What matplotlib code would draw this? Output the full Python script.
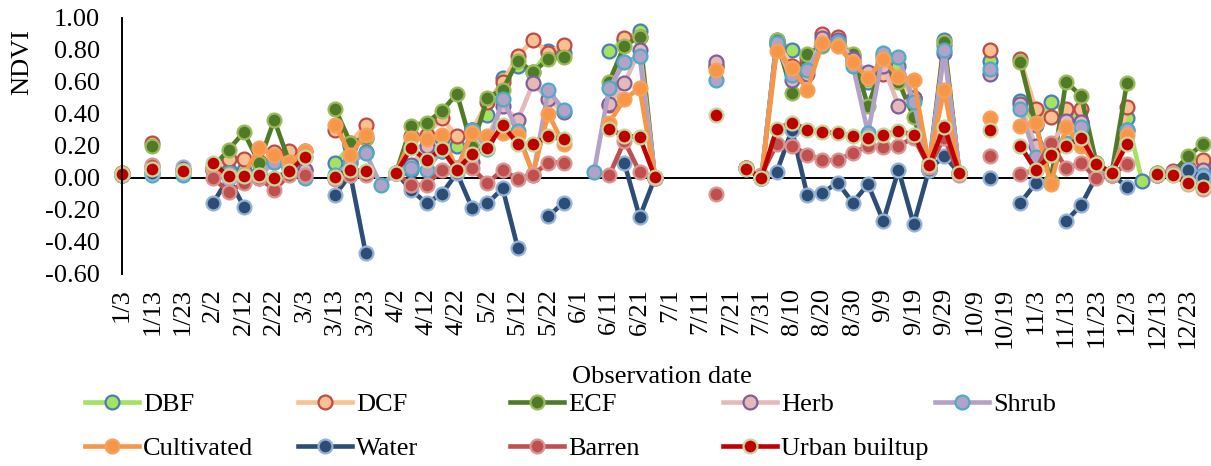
import numpy as np
import pandas as pd
import matplotlib
matplotlib.use("Agg")
import matplotlib.pyplot as plt

plt.rcParams['font.family'] = ['Liberation Serif', 'DejaVu Serif']
FS = 19

# ======================
# data (NDVI per 5-day observation, 2020; 10/24 not observed)
# ======================
dates = [d for d in pd.date_range('2020-01-03', '2020-12-28', freq='5D')
         if d != pd.Timestamp('2020-10-24')]
date_labels = [f"{d.month}/{d.day}" for d in dates]

N = None
dbf = [0.03, N, 0.03, N, 0.05, N, 0.06, 0.05, 0.05, 0.03, 0.12, 0.10,
       0.05, N, 0.09, 0.20, 0.25, N, 0.03, 0.05, 0.20, 0.25, 0.20, 0.30,
       0.39, 0.62, 0.70, 0.66, 0.79, 0.78, N, N, 0.79, 0.86, 0.915, 0.0,
       N, N, N, 0.70, N, 0.06, 0.0, 0.86, 0.80, 0.75, 0.85, 0.85,
       0.72, 0.60, 0.76, 0.70, 0.50, 0.05, 0.86, 0.03, N, 0.73, N, 0.48,
       0.33, 0.47, 0.42, 0.35, 0.05, 0.03, 0.375, -0.02, 0.02, 0.03, 0.03, 0.07]
dcf = [0.03, N, 0.22, N, 0.04, N, 0.05, 0.12, 0.12, 0.10, 0.16, 0.165,
       0.17, N, 0.30, 0.22, 0.33, N, 0.03, 0.26, 0.27, 0.37, 0.26, 0.30,
       0.47, 0.60, 0.76, 0.86, 0.78, 0.83, N, N, 0.455, 0.87, 0.88, 0.0,
       N, N, N, 0.70, N, 0.06, 0.0, 0.85, 0.70, 0.72, 0.895, 0.88,
       0.76, 0.62, 0.65, 0.62, 0.50, 0.08, 0.83, 0.03, N, 0.80, N, 0.74,
       0.43, 0.38, 0.43, 0.43, 0.09, 0.03, 0.44, N, 0.03, 0.04, 0.06, 0.11]
ecf = [0.02, N, 0.20, N, 0.04, N, 0.07, 0.175, 0.285, 0.095, 0.36, 0.095,
       0.13, N, 0.43, 0.22, 0.25, N, 0.03, 0.325, 0.345, 0.415, 0.525, 0.19,
       0.50, 0.55, 0.73, 0.66, 0.74, 0.755, N, N, 0.60, 0.825, 0.88, 0.0,
       N, N, N, N, N, 0.06, 0.0, 0.86, 0.53, 0.77, 0.82, 0.83,
       0.77, 0.445, 0.72, 0.60, 0.38, 0.06, 0.85, 0.03, N, N, N, 0.723,
       0.34, -0.02, 0.60, 0.51, 0.09, 0.03, 0.59, N, 0.03, 0.03, 0.134, 0.21]
herb = [0.02, N, 0.07, N, 0.05, N, 0.05, 0.03, 0.02, 0.0, 0.10, 0.07,
        0.05, N, 0.0, 0.10, 0.16, N, 0.03, 0.08, 0.20, 0.17, 0.06, 0.10,
        0.25, 0.45, 0.36, 0.59, 0.49, 0.41, N, N, 0.46, 0.59, 0.80, 0.0,
        N, N, N, 0.72, N, 0.06, 0.0, 0.83, 0.61, 0.65, 0.87, 0.86,
        0.74, 0.66, 0.70, 0.45, 0.50, 0.06, 0.78, 0.03, N, 0.65, N, 0.46,
        0.20, 0.20, 0.355, 0.35, 0.05, 0.02, 0.30, N, 0.02, 0.03, 0.05, 0.05]
shrub = [0.02, N, 0.02, N, 0.02, N, 0.05, 0.03, 0.02, 0.02, 0.10, 0.06,
         0.0, N, 0.02, 0.09, 0.155, -0.045, 0.03, 0.06, 0.05, 0.17, 0.05, 0.30,
         0.18, 0.49, 0.29, 0.02, 0.545, 0.425, N, 0.035, 0.56, 0.72, 0.76, 0.0,
         N, N, N, 0.61, N, 0.06, 0.0, 0.84, 0.64, 0.675, 0.83, 0.85,
         0.70, 0.28, 0.78, 0.755, 0.47, 0.05, 0.80, 0.03, N, 0.68, N, 0.43,
         0.13, 0.20, 0.22, 0.317, 0.03, 0.02, 0.30, N, 0.02, 0.03, 0.05, 0.02]
cultivated = [0.03, N, 0.05, N, 0.04, N, 0.06, 0.02, 0.02, 0.185, 0.145, 0.10,
              0.165, N, 0.33, 0.145, 0.27, N, 0.03, 0.25, 0.24, 0.27, 0.05, 0.28,
              0.26, 0.28, 0.27, 0.025, 0.40, 0.21, N, N, 0.345, 0.49, 0.56, 0.0,
              N, N, N, 0.67, N, 0.06, 0.0, 0.79, 0.685, 0.55, 0.84, 0.82,
              0.72, 0.62, 0.74, 0.63, 0.61, 0.09, 0.55, 0.03, N, 0.37, N, 0.323,
              0.34, -0.04, 0.317, 0.20, 0.08, 0.02, 0.27, N, 0.02, 0.02, -0.04, -0.04]
water = [0.02, N, 0.03, N, 0.07, N, -0.155, 0.0, -0.18, N, N, N,
         0.02, N, -0.105, 0.02, -0.467, N, 0.03, -0.075, -0.16, -0.10, 0.03, -0.19,
         -0.16, -0.065, -0.44, N, -0.24, -0.155, N, N, N, 0.09, -0.245, 0.0,
         N, N, N, N, N, N, N, 0.035, 0.30, -0.105, -0.095, -0.03,
         -0.155, -0.04, -0.27, 0.05, -0.29, 0.05, 0.137, 0.03, N, 0.0, N, -0.157,
         -0.035, N, -0.27, -0.17, 0.01, 0.02, -0.055, N, 0.02, 0.03, 0.05, 0.0]
barren = [0.02, N, 0.08, N, 0.05, N, 0.0, -0.09, -0.03, 0.0, -0.075, 0.02,
          0.02, N, -0.01, 0.02, 0.02, N, 0.03, -0.045, -0.045, 0.05, 0.06, 0.06,
          -0.035, 0.05, -0.01, 0.02, 0.095, 0.095, N, N, 0.015, 0.23, 0.035, 0.0,
          N, N, N, -0.10, N, N, 0.02, 0.21, 0.20, 0.145, 0.11, 0.11,
          0.155, 0.20, 0.195, 0.20, 0.25, 0.07, 0.25, 0.02, N, 0.137, N, 0.022,
          0.05, 0.22, 0.06, 0.09, 0.0, 0.02, 0.085, N, 0.02, 0.03, -0.03, -0.07]
urban = [0.025, N, 0.055, N, 0.04, N, 0.09, 0.01, 0.01, 0.02, 0.0, 0.04,
         0.13, N, 0.008, 0.05, 0.04, N, 0.03, 0.185, 0.11, 0.18, 0.05, 0.15,
         0.185, 0.33, 0.21, 0.21, 0.26, 0.24, N, N, 0.305, 0.26, 0.255, 0.005,
         N, N, N, 0.39, N, 0.055, 0.0, 0.305, 0.345, 0.30, 0.285, 0.28,
         0.26, 0.25, 0.27, 0.29, 0.27, 0.077, 0.32, 0.03, N, 0.30, N, 0.20,
         0.05, 0.14, 0.20, 0.25, 0.086, 0.03, 0.21, N, 0.025, 0.02, -0.035, -0.055]

# name, values, line colour, marker face, marker edge
series = [
    ("DBF", dbf, '#A4E35F', '#A4E35F', '#4A7EBB'),
    ("DCF", dcf, '#FAC090', '#FAC090', '#BE4B48'),
    ("ECF", ecf, '#4F7A28', '#4F7A28', '#9BBB59'),
    ("Herb", herb, '#E6B9B8', '#E6B9B8', '#7D5FA0'),
    ("Shrub", shrub, '#B3A2C7', '#B3A2C7', '#4BACC6'),
    ("Cultivated", cultivated, '#F79646', '#F79646', '#F5A25D'),
    ("Water", water, '#2C4D75', '#2C4D75', '#95B3D7'),
    ("Barren", barren, '#C0504D', '#C0504D', '#D99694'),
    ("Urban builtup", urban, '#C00000', '#C00000', '#C3D69B'),
]

W, H = 1211, 466
fig = plt.figure(figsize=(W / 100, H / 100), dpi=100)
ax = fig.add_axes([122 / W, 1 - 274 / H, (1203 - 122) / W, (274 - 17.5) / H])

x = np.arange(len(dates))
handles = {}
for name, vals, lc, fc, ec in series:
    y = np.array(vals, dtype=float)
    h, = ax.plot(x, y, color=lc, lw=3.3, marker='o', ms=10, mfc=fc, mec=ec,
                 mew=1.6, label=name, solid_joinstyle='round', clip_on=False)
    handles[name] = h

ax.axhline(0, color='black', lw=1.4, zorder=1)
ax.set_xlim(0, len(dates) - 1)
ax.set_ylim(-0.6, 1.0)
ax.set_yticks(np.arange(-0.6, 1.01, 0.2))
ax.set_yticklabels([f"{v:.2f}" for v in np.arange(-0.6, 1.01, 0.2)], fontsize=FS)
ax.set_xticks(x[::2])
ax.set_xticklabels(date_labels[::2], rotation=90, fontsize=FS)
ax.tick_params(axis='y', length=0, pad=16)
ax.tick_params(axis='x', length=0, pad=10)
for s in ['top', 'right', 'bottom']:
    ax.spines[s].set_visible(False)
ax.spines['left'].set_linewidth(1.4)
ax.patch.set_alpha(0)

fig.text(22 / W, 1 - 62 / H, "NDVI", rotation=90, ha='center', va='center', fontsize=FS)
fig.text(662 / W, 1 - 377 / H, "Observation date", ha='center', va='center', fontsize=FS)

# legend: 5 columns, 2 rows (row-major like the original)
cols = [["DBF", "Cultivated"], ["DCF", "Water"], ["ECF", "Barren"],
        ["Herb", "Urban builtup"], ["Shrub"]]
col_x = [85, 298, 510, 723, 935]
for names, cx in zip(cols, col_x):
    fig.legend(handles=[handles[n] for n in names], labels=names,
               loc='upper left', bbox_to_anchor=(cx / W, 1 - 393 / H),
               frameon=False, fontsize=FS, handlelength=2.05, handletextpad=0.15,
               borderpad=0, borderaxespad=0, labelspacing=0.75)

fig.savefig("out.png", dpi=100)
